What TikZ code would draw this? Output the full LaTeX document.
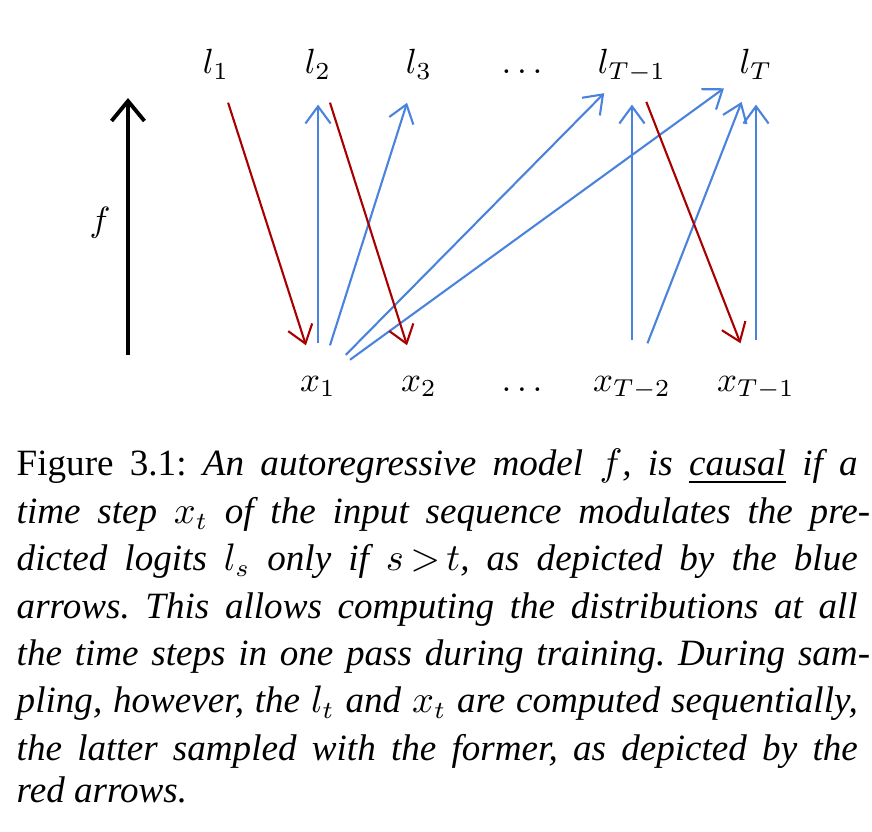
\documentclass[tikz,border=0pt]{standalone}
\usepackage{fontspec}
\setmainfont{Liberation Serif}
\usepackage{tikz}
\usetikzlibrary{arrows.meta, positioning}
\usepackage{amsmath}
\usepackage{xcolor}
\definecolor{causalblue}{HTML}{4A83DD}
\definecolor{samplered}{HTML}{A80000}

\begin{document}
\begin{tikzpicture}[
    every node/.style={font=\normalsize},
    tok/.style={circle, minimum size=0.78cm, inner sep=0pt, text height=7pt, text depth=2pt},
    cause/.style={-{Straight Barb[length=4.9pt, width=7.2pt]}, causalblue, line width=0.6pt},
    sample/.style={-{Straight Barb[length=4.9pt, width=7.2pt]}, samplered, line width=0.6pt}
]
    \useasboundingbox (0,0) rectangle (8.755,8.353);

    % Logits
    \node[tok] (l1) at (2.169, 7.70) {$l_1$};
    \node[tok] (l2) at (3.193, 7.70) {$l_2$};
    \node[tok] (l3) at (4.207, 7.70) {$l_3$};
    \node[tok] (ldots) at (5.241, 7.70) {$\ldots$};
    \node[tok] (lTm1) at (6.345, 7.70) {$l_{T-1}$};
    \node[tok] (lT) at (7.590, 7.70) {$l_T$};

    % Inputs
    \node[tok] (x1) at (3.193, 4.508) {$x_1$};
    \node[tok] (x2) at (4.207, 4.508) {$x_2$};
    \node[tok] (xdots) at (5.241, 4.508) {$\ldots$};
    \node[tok] (xTm2) at (6.345, 4.508) {$x_{T-2}$};
    \node[tok] (xTm1) at (7.590, 4.508) {$x_{T-1}$};

    % Model
    \coordinate (fbot) at (1.285, 4.789);
    \coordinate (ftop) at (1.285, 7.369);
    \node (f) at (1.004, 6.114) {$f$};
    \draw[-{Straight Barb[length=5.7pt, width=9.4pt]}, line width=1.1pt] (fbot) -- (ftop);

    % Causal dependencies
    \draw[cause] (x1) -- (l2);
    \draw[cause] (x1) -- (l3);
    \draw[cause] (x1) -- (lTm1);
    \draw[cause] (x1) -- (lT);
    \draw[cause] (xTm2) -- (lTm1);
    \draw[cause] (xTm2) -- (lT);
    \draw[cause] (xTm1) -- (lT);

    % Sampling
    \draw[sample] (l1) -- (x1);
    \draw[sample] (l2) -- (x2);
    \draw[sample] (lTm1) -- (xTm1);

    % Caption
    \node[anchor=base west, text width=8.444cm, align=left, inner sep=0pt] (caption) at (0.161, 3.574) {%
        \fontsize{10.6}{13.54}\selectfont\itshape\frenchspacing\spaceskip=0pt\xspaceskip=0pt
        \makebox[\linewidth][s]{{\upshape Figure 3.1:} An autoregressive model $f$, is \underline{causal} if a}\\
        \makebox[\linewidth][s]{time step $x_t$ of the input sequence modulates the pre\rlap{-}}\\
        \makebox[\linewidth][s]{dicted logits $l_s$ only if $s\,{>}\,t$, as depicted by the blue}\\
        \makebox[\linewidth][s]{arrows. This allows computing the distributions at all}\\
        \makebox[\linewidth][s]{the time steps in one pass during training. During sam\rlap{-}}\\
        \makebox[\linewidth][s]{pling, however, the $l_t$ and $x_t$ are computed sequentially,}\\
        \makebox[\linewidth][s]{the latter sampled with the former, as depicted by the}\\
        red arrows.};
\end{tikzpicture}
\end{document}
